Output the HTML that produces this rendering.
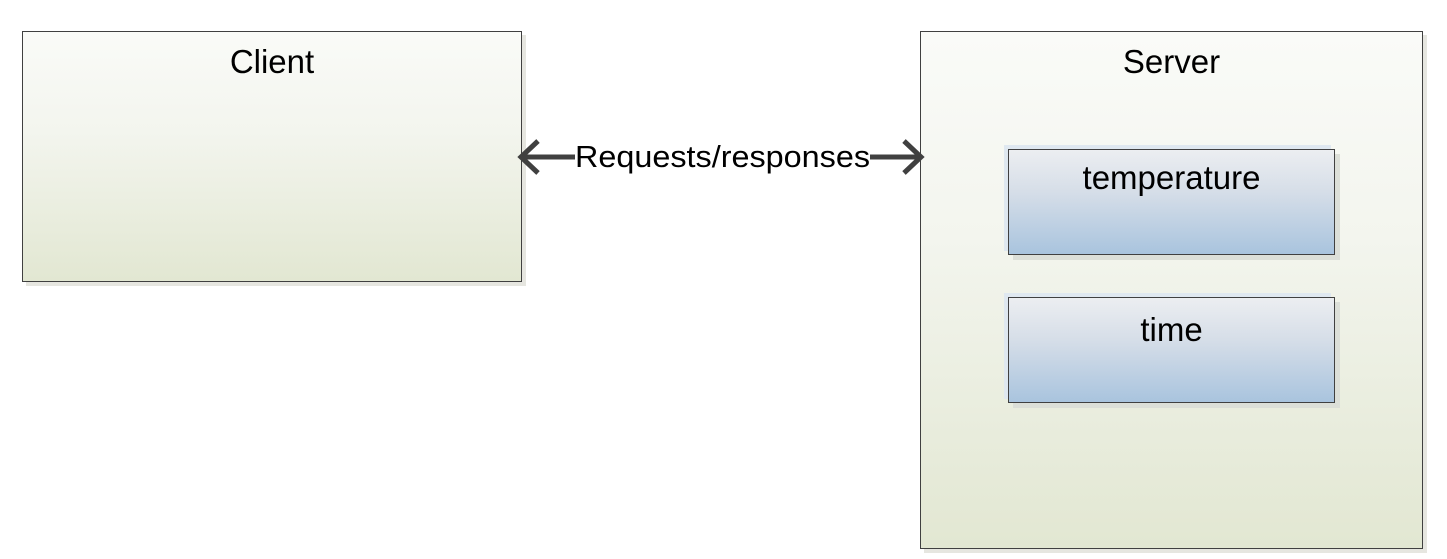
<!DOCTYPE html>
<html><head><style>
body{margin:0;width:1447px;height:559px;background:#fff;position:relative;overflow:hidden;font-family:"Liberation Sans",sans-serif;}
.b{position:absolute;box-sizing:border-box;border:1px solid #404040;text-align:center;color:#000;font-size:33px;line-height:36px;}
.g{background:linear-gradient(#fafbf8,#f3f5ee 40%,#e2e7d2);box-shadow:4px 4px 0 #e6e6e0;}
.bl{background:linear-gradient(#eceef1,#d6dee8 40%,#a9c4de);box-shadow:5px 5px 0 #dcdfd8, -4px -4px 0 #dfe8f0;}
</style></head><body>
<div class="b g" style="left:22px;top:31px;width:500px;height:251px;padding-top:12px;">Client</div>
<div class="b g" style="left:920px;top:31px;width:503px;height:518px;padding-top:12px;">Server</div>
<div class="b bl" style="left:1008px;top:149px;width:327px;height:106px;padding-top:10px;">temperature</div>
<div class="b bl" style="left:1008px;top:297px;width:327px;height:106px;padding-top:14px;">time</div>
<svg style="position:absolute;left:0;top:0" width="1447" height="559">
<line x1="522" y1="157" x2="575" y2="157" stroke="#404040" stroke-width="5"/>
<line x1="870" y1="157" x2="920" y2="157" stroke="#404040" stroke-width="5"/>
<polyline points="538,141 521,157 538,173" fill="none" stroke="#404040" stroke-width="5"/>
<polyline points="904,141 921,157 904,173" fill="none" stroke="#404040" stroke-width="5"/>
<text x="575" y="167" textLength="295" lengthAdjust="spacingAndGlyphs" font-family="Liberation Sans" font-size="31" fill="#000">Requests/responses</text>
</svg>
</body></html>
